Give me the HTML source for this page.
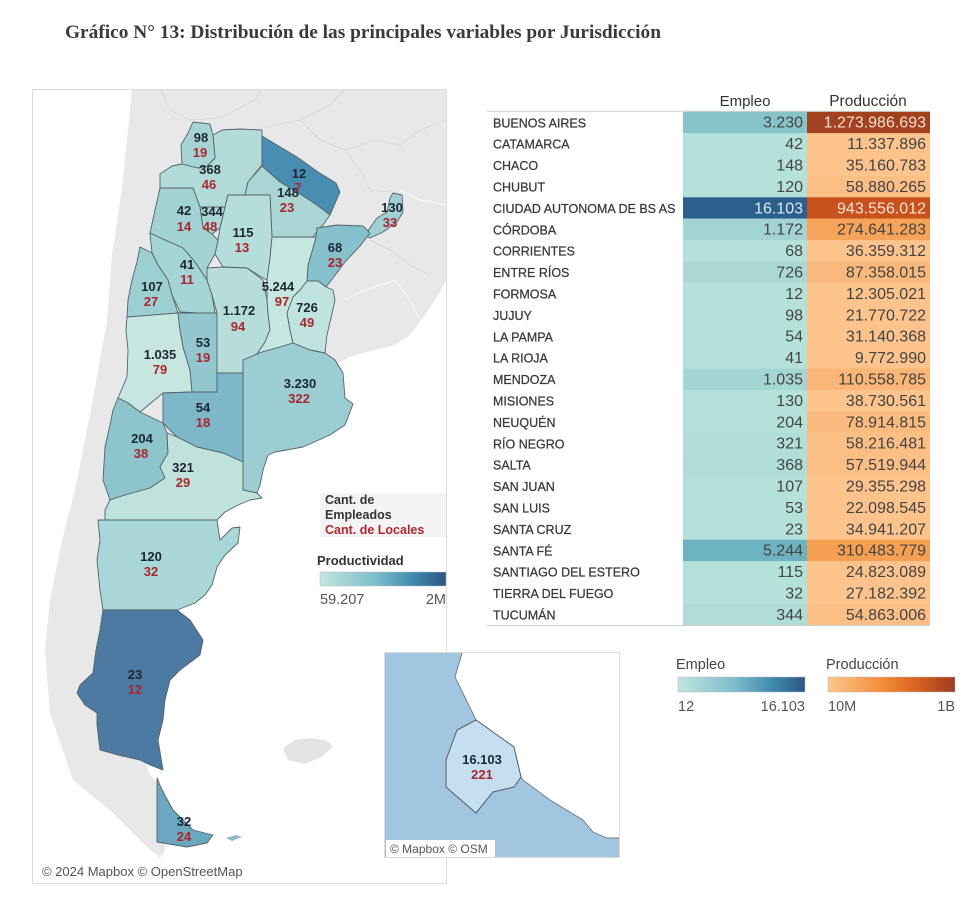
<!DOCTYPE html>
<html><head><meta charset="utf-8"><style>
html,body{margin:0;padding:0;background:#fff;}
body{width:974px;height:905px;overflow:hidden;}
svg{display:block;}
</style></head><body>
<svg width="974" height="905" viewBox="0 0 974 905" xmlns="http://www.w3.org/2000/svg">
<defs>
<linearGradient id="gBT" x1="0" x2="1" y1="0" y2="0">
<stop offset="0" stop-color="#c3e6df"/><stop offset="0.45" stop-color="#7cbccb"/><stop offset="0.75" stop-color="#3f88ad"/><stop offset="1" stop-color="#2c5683"/>
</linearGradient>
<linearGradient id="gOR" x1="0" x2="1" y1="0" y2="0">
<stop offset="0" stop-color="#fdc78c"/><stop offset="0.45" stop-color="#f28a35"/><stop offset="0.75" stop-color="#d05a1f"/><stop offset="1" stop-color="#9c3d22"/>
</linearGradient>
<clipPath id="mapclip"><rect x="33" y="90" width="413" height="792"/></clipPath>
<clipPath id="insclip"><rect x="384" y="652" width="236" height="206"/></clipPath>
</defs>

<!-- Title -->
<text x="65" y="38" font-family="Liberation Serif, serif" font-weight="bold" font-size="18.5" fill="#3a3a3a" textLength="596" lengthAdjust="spacingAndGlyphs">Gráfico N° 13: Distribución de las principales variables por Jurisdicción</text>

<!-- Map panel -->
<rect x="32.5" y="89.5" width="414" height="794" fill="#fff" stroke="#dcdcdc"/>
<g clip-path="url(#mapclip)">
<polygon fill="#e8e8e8" points="132,89 447,89 447,280 438,295 425,315 410,335 395,345 375,350 355,355 340,362 300,400 220,470 150,560 120,700 150,775 165,790 165,850 160,858 147,847 113,813 73,780 50,713 45,650 50,600 62,540 75,490 85,440 95,388 107,321 112,255 122,188 129,121"/>
<g fill="none" stroke="#f7f7f7" stroke-width="1.2">
<polyline points="160,89 170,110 190,120 220,118 255,100 262,89"/>
<polyline points="262,128 300,120 330,105 345,89"/>
<polyline points="300,120 320,140 345,150 360,170 370,190 390,192"/>
<polyline points="345,150 375,140 400,145 420,130 447,120"/>
<polyline points="400,190 420,200 447,205"/>
<polyline points="370,240 390,250 410,265 430,275"/>
<polyline points="345,300 365,290 395,280 410,300 420,320"/>
</g>
<g fill="none" stroke="#cfcfcf" stroke-width="0.8">
<polyline points="262,128 300,120 330,105 345,89"/>
<polyline points="300,120 320,140 345,150 360,170 370,190 390,192"/>
<polyline points="345,150 375,140 400,145 420,130 447,120"/>
<polyline points="370,240 390,250 410,265 430,275"/>
<polyline points="160,89 170,110 190,120 220,118 255,100 262,89"/>
</g>
<!-- Falklands -->
<polygon fill="#e4e4e4" points="283,748 295,740 310,738 325,740 333,746 322,757 305,764 288,760"/>

<g stroke="#53636a" stroke-width="0.9" stroke-linejoin="round">
<polygon fill="#b2dbd8" points="160,188 160,174 172,166 182,164 198,168 207,166 215,158 213,135 222,130 240,129 262,130 262,165 248,182 245,195 228,195 225,207 200,207 193,188"/>
<polygon fill="#a6d4d4" points="193,122 210,124 213,135 215,158 207,166 198,168 182,164 181,145 188,133"/>
<polygon fill="#4a8db2" points="262,136 272,142 297,157 318,172 336,183 340,192 330,215 317,205 297,192 280,182 262,166"/>
<polygon fill="#a9d6d5" points="262,166 280,182 297,192 317,205 330,215 323,225 318,230 313,237 272,237 270,195 245,195 248,182"/>
<polygon fill="#a0d0d4" points="393,193 402,195 403,212 397,222 383,232 370,238 365,235 377,218 387,212 390,198"/>
<polygon fill="#86c0cc" points="317,228 337,225 363,226 370,233 360,246 345,262 333,278 326,287 318,281 307,281 308,265 313,248 316,237"/>
<polygon fill="#b5ddd9" points="228,195 270,195 272,237 270,258 267,280 258,275 247,268 223,267 215,254 218,240 220,228 225,207"/>
<polygon fill="#a9d6d5" points="200,207 225,207 220,228 212,234 203,228"/>
<polygon fill="#a2d2d3" points="160,188 193,188 200,207 203,228 212,234 218,240 215,254 207,268 207,280 195,262 183,248 165,240 150,233 155,210"/>
<polygon fill="#a4d4d4" points="150,233 165,240 183,248 195,262 207,280 212,295 215,313 198,313 180,312 172,295 168,280 158,265 152,253"/>
<polygon fill="#9ccfd1" points="140,247 152,253 158,265 168,280 172,295 178,313 160,316 127,317 128,300 132,280 137,262"/>
<polygon fill="#c8e6e0" points="127,317 178,313 180,330 183,347 190,370 192,392 163,393 140,412 128,403 118,398 127,377 128,350 126,330"/>
<polygon fill="#93c7cf" points="178,313 217,313 217,373 217,392 192,392 190,370 183,347 180,330"/>
<polygon fill="#b6ddd9" points="207,268 223,267 247,268 263,280 267,300 268,313 270,330 265,342 255,357 243,360 243,373 217,373 217,313 212,295 207,280"/>
<polygon fill="#c6e6e0" points="272,237 316,237 313,248 308,265 307,281 300,290 293,297 287,313 290,330 293,343 280,347 262,352 243,360 255,357 265,342 270,330 268,313 267,300 267,280 270,258"/>
<polygon fill="#c0e3df" points="307,281 318,281 326,287 333,290 335,300 331,318 327,335 325,353 310,350 293,343 290,330 287,313 293,297 300,290"/>
<polygon fill="#9ccdd3" points="243,360 262,352 280,347 293,343 310,350 325,353 335,360 343,373 345,398 353,404 345,425 330,435 303,447 275,452 268,455 263,470 260,485 257,493 243,490 243,462 243,373"/>
<polygon fill="#7cb8c7" points="163,393 192,392 217,392 217,373 243,373 243,462 223,453 197,447 177,437 163,423"/>
<polygon fill="#8ec5cd" points="118,398 128,403 140,412 163,423 167,433 168,453 160,467 165,478 150,488 125,495 110,500 103,480 105,447 110,425 113,410"/>
<polygon fill="#c0e2dd" points="167,433 177,437 197,447 223,453 243,462 243,490 257,493 262,498 250,500 238,505 225,512 217,520 105,520 105,510 110,500 125,495 150,488 165,478 160,467 168,453"/>
<polygon fill="#a9d6d6" points="98,520 217,520 220,540 232,528 240,527 238,543 225,555 217,567 212,585 205,595 195,603 177,610 103,610 100,590 97,560 100,540"/>
<polygon fill="#4c7aa3" points="103,610 177,610 190,620 203,640 200,655 180,670 170,680 165,700 163,720 158,740 163,770 150,765 140,760 118,755 100,750 97,725 97,713 85,705 77,693 80,685 93,673 96,650 100,630"/>
<polygon fill="#6aa8c0" points="157,778 162,790 173,810 193,830 213,835 207,843 187,847 157,842"/>
</g>
<polygon fill="#8fb7c8" points="226,838 236,835 242,837 232,841"/>

<g font-family="Liberation Sans, Arial, sans-serif" font-weight="bold" font-size="13" text-anchor="middle">
<g fill="#1d2733">
<text x="201" y="142">98</text><text x="210" y="174">368</text><text x="299" y="178">12</text>
<text x="288" y="197">148</text><text x="392" y="212">130</text><text x="184" y="215">42</text>
<text x="212" y="216">344</text><text x="243" y="237">115</text><text x="335" y="252">68</text>
<text x="187" y="269">41</text><text x="152" y="291">107</text><text x="278" y="291">5.244</text>
<text x="307" y="312">726</text><text x="239" y="315">1.172</text><text x="203" y="347">53</text>
<text x="160" y="359">1.035</text><text x="300" y="388">3.230</text><text x="203" y="412">54</text>
<text x="142" y="443">204</text><text x="183" y="472">321</text><text x="151" y="561">120</text>
<text x="135" y="679">23</text><text x="184" y="826">32</text>
</g>
<g fill="#a8262c">
<text x="200" y="157">19</text><text x="209" y="189">46</text><text x="298" y="192">7</text>
<text x="287" y="212">23</text><text x="390" y="227">33</text><text x="184" y="231">14</text>
<text x="210" y="231">48</text><text x="242" y="252">13</text><text x="335" y="267">23</text>
<text x="187" y="284">11</text><text x="151" y="306">27</text><text x="282" y="306">97</text>
<text x="307" y="327">49</text><text x="238" y="331">94</text><text x="203" y="362">19</text>
<text x="160" y="374">79</text><text x="299" y="403">322</text><text x="203" y="427">18</text>
<text x="141" y="458">38</text><text x="183" y="487">29</text><text x="151" y="576">32</text>
<text x="135" y="694">12</text><text x="184" y="841">24</text>
</g>
</g>

<rect x="320" y="493" width="126" height="44" fill="#f4f4f4"/>
<g font-family="Liberation Sans, Arial, sans-serif" font-weight="bold" font-size="12.5">
<text x="325" y="504" fill="#333">Cant. de</text>
<text x="325" y="519" fill="#333">Empleados</text>
<text x="325" y="534" fill="#b0272d">Cant. de Locales</text>
<text x="317" y="565" fill="#333" font-size="13">Productividad</text>
</g>
<rect x="320" y="572" width="126" height="14" fill="url(#gBT)" stroke="#bbb" stroke-width="0.5"/>
<g font-family="Liberation Sans, Arial, sans-serif" font-size="14.5" fill="#555">
<text x="320" y="604">59.207</text>
<text x="446" y="604" text-anchor="end">2M</text>
</g>

<rect x="37" y="862" width="212" height="19" fill="#fff" fill-opacity="0.75"/>
<text x="42" y="876" font-family="Liberation Sans, Arial, sans-serif" font-size="13" fill="#555">© 2024 Mapbox © OpenStreetMap</text>
</g>

<!-- Inset map -->
<rect x="384" y="652" width="236" height="206" fill="#a2c6e0"/>
<g clip-path="url(#insclip)">
<polygon fill="#fff" stroke="#6d7a80" stroke-width="0.9" points="463,650 622,650 622,838 607,838 593,832 583,820 550,800 523,780 521,777 514,747 476,720 455,677"/>
<polygon fill="#c5dff0" stroke="#555f66" stroke-width="1" points="476,720 514,747 521,777 514,787 493,792 476,813 446,787 446,760 457,730"/>
</g>
<rect x="384.5" y="652.5" width="235" height="205" fill="none" stroke="#dcdcdc"/>
<g font-family="Liberation Sans, Arial, sans-serif" font-weight="bold" font-size="13" text-anchor="middle">
<text x="482" y="764" fill="#1d2733">16.103</text>
<text x="482" y="779" fill="#a8262c">221</text>
</g>
<rect x="386" y="840" width="109" height="17" fill="#fff"/>
<text x="390" y="853" font-family="Liberation Sans, Arial, sans-serif" font-size="12" fill="#555">© Mapbox © OSM</text>

<!-- Table -->
<g font-family="Liberation Sans, Arial, sans-serif">
<text x="745" y="106" text-anchor="middle" font-size="15" fill="#333">Empleo</text>
<text x="868" y="106" text-anchor="middle" font-size="15.5" fill="#333">Producción</text>
</g>
<g font-family="Liberation Sans, Arial, sans-serif">
<rect x="683" y="111.7" width="124" height="513.6" fill="#b4e2da"/>
<rect x="807" y="111.7" width="123" height="513.6" fill="#fcc48c"/>
<rect x="683" y="111.7" width="124" height="21.4" fill="#87c4c9"/><rect x="807" y="111.7" width="123" height="21.4" fill="#a2411d"/>
<rect x="807" y="175.9" width="123" height="21.4" fill="#fbbe84"/>
<rect x="683" y="197.3" width="124" height="21.4" fill="#2b5f8e"/><rect x="807" y="197.3" width="123" height="21.4" fill="#c8521e"/>
<rect x="683" y="218.7" width="124" height="21.4" fill="#a3d4d3"/><rect x="807" y="218.7" width="123" height="21.4" fill="#f6a459"/>
<rect x="683" y="261.5" width="124" height="21.4" fill="#aad9d6"/><rect x="807" y="261.5" width="123" height="21.4" fill="#fab97c"/>
<rect x="683" y="368.5" width="124" height="21.4" fill="#a5d5d3"/><rect x="807" y="368.5" width="123" height="21.4" fill="#f9b676"/>
<rect x="807" y="411.3" width="123" height="21.4" fill="#fbbb7f"/>
<rect x="683" y="432.7" width="124" height="21.4" fill="#b0ded8"/><rect x="807" y="432.7" width="123" height="21.4" fill="#fbbe84"/>
<rect x="683" y="454.1" width="124" height="21.4" fill="#afddd8"/><rect x="807" y="454.1" width="123" height="21.4" fill="#fbbe84"/>
<rect x="683" y="539.7" width="124" height="21.4" fill="#6db2c1"/><rect x="807" y="539.7" width="123" height="21.4" fill="#f49f52"/>
<rect x="683" y="603.9" width="124" height="21.4" fill="#afded8"/><rect x="807" y="603.9" width="123" height="21.4" fill="#fbbe84"/>
<line x1="487" y1="111.2" x2="930" y2="111.2" stroke="#d0d0d0" stroke-width="1"/>
<line x1="487" y1="625.5" x2="930" y2="625.5" stroke="#d0d0d0" stroke-width="1"/>

<g font-size="12.5" fill="#3a3a3a" stroke="#3a3a3a" stroke-width="0.25">
<text x="493" y="127.3">BUENOS AIRES</text>
<text x="493" y="148.7">CATAMARCA</text>
<text x="493" y="170.1">CHACO</text>
<text x="493" y="191.5">CHUBUT</text>
<text x="493" y="212.9">CIUDAD AUTONOMA DE BS AS</text>
<text x="493" y="234.3">CÓRDOBA</text>
<text x="493" y="255.7">CORRIENTES</text>
<text x="493" y="277.1">ENTRE RÍOS</text>
<text x="493" y="298.5">FORMOSA</text>
<text x="493" y="319.9">JUJUY</text>
<text x="493" y="341.3">LA PAMPA</text>
<text x="493" y="362.7">LA RIOJA</text>
<text x="493" y="384.1">MENDOZA</text>
<text x="493" y="405.5">MISIONES</text>
<text x="493" y="426.9">NEUQUÉN</text>
<text x="493" y="448.3">RÍO NEGRO</text>
<text x="493" y="469.7">SALTA</text>
<text x="493" y="491.1">SAN JUAN</text>
<text x="493" y="512.5">SAN LUIS</text>
<text x="493" y="533.9">SANTA CRUZ</text>
<text x="493" y="555.3">SANTA FÉ</text>
<text x="493" y="576.7">SANTIAGO DEL ESTERO</text>
<text x="493" y="598.1">TIERRA DEL FUEGO</text>
<text x="493" y="619.5">TUCUMÁN</text>
</g>
<g font-size="16" fill="#444" text-anchor="end">
<text x="803" y="127.7">3.230</text>
<text x="803" y="149.1">42</text>
<text x="803" y="170.5">148</text>
<text x="803" y="191.9">120</text>
<text x="803" y="213.3" fill="#dde8f2">16.103</text>
<text x="803" y="234.7">1.172</text>
<text x="803" y="256.1">68</text>
<text x="803" y="277.5">726</text>
<text x="803" y="298.9">12</text>
<text x="803" y="320.3">98</text>
<text x="803" y="341.7">54</text>
<text x="803" y="363.1">41</text>
<text x="803" y="384.5">1.035</text>
<text x="803" y="405.9">130</text>
<text x="803" y="427.3">204</text>
<text x="803" y="448.7">321</text>
<text x="803" y="470.1">368</text>
<text x="803" y="491.5">107</text>
<text x="803" y="512.9">53</text>
<text x="803" y="534.3">23</text>
<text x="803" y="555.7">5.244</text>
<text x="803" y="577.1">115</text>
<text x="803" y="598.5">32</text>
<text x="803" y="619.9">344</text>

<text x="926" y="127.7" fill="#f6e0d5">1.273.986.693</text>
<text x="926" y="149.1">11.337.896</text>
<text x="926" y="170.5">35.160.783</text>
<text x="926" y="191.9">58.880.265</text>
<text x="926" y="213.3" fill="#fbe3d2">943.556.012</text>
<text x="926" y="234.7">274.641.283</text>
<text x="926" y="256.1">36.359.312</text>
<text x="926" y="277.5">87.358.015</text>
<text x="926" y="298.9">12.305.021</text>
<text x="926" y="320.3">21.770.722</text>
<text x="926" y="341.7">31.140.368</text>
<text x="926" y="363.1">9.772.990</text>
<text x="926" y="384.5">110.558.785</text>
<text x="926" y="405.9">38.730.561</text>
<text x="926" y="427.3">78.914.815</text>
<text x="926" y="448.7">58.216.481</text>
<text x="926" y="470.1">57.519.944</text>
<text x="926" y="491.5">29.355.298</text>
<text x="926" y="512.9">22.098.545</text>
<text x="926" y="534.3">34.941.207</text>
<text x="926" y="555.7">310.483.779</text>
<text x="926" y="577.1">24.823.089</text>
<text x="926" y="598.5">27.182.392</text>
<text x="926" y="619.9">54.863.006</text>
</g>
</g>

<!-- Table legends -->
<g font-family="Liberation Sans, Arial, sans-serif" font-size="14.5" fill="#444">
<text x="676" y="669">Empleo</text>
<text x="826" y="669">Producción</text>
</g>
<rect x="678" y="677" width="127" height="15" fill="url(#gBT)" stroke="#bbb" stroke-width="0.5"/>
<rect x="828" y="677" width="127" height="15" fill="url(#gOR)" stroke="#bbb" stroke-width="0.5"/>
<g font-family="Liberation Sans, Arial, sans-serif" font-size="14.5" fill="#555">
<text x="678" y="711">12</text>
<text x="805" y="711" text-anchor="end">16.103</text>
<text x="828" y="711">10M</text>
<text x="955" y="711" text-anchor="end">1B</text>
</g>
</svg>
</body></html>
